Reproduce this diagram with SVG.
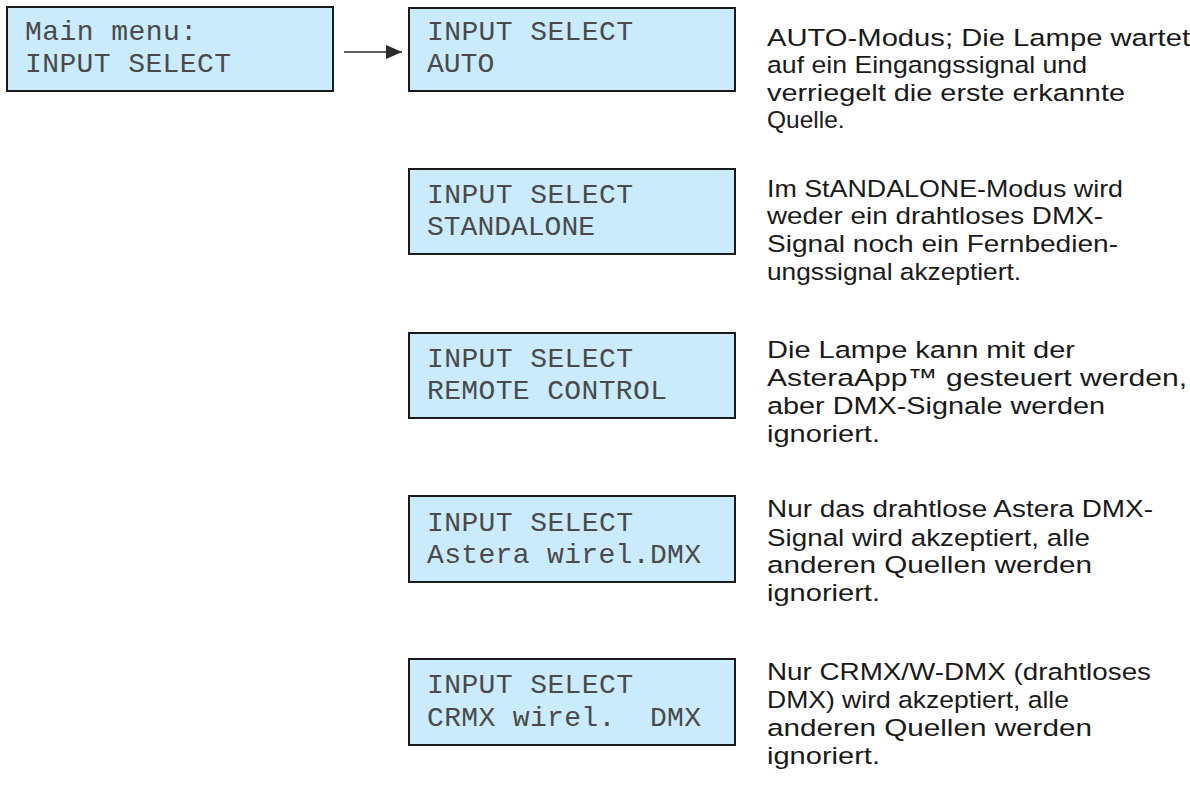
<svg xmlns="http://www.w3.org/2000/svg" width="1190" height="792" viewBox="0 0 1190 792">
<style>
.lcd{fill:#c9ebfb;stroke:#1a1a1a;stroke-width:2}
.lt{font-family:"Liberation Mono","DejaVu Sans Mono",monospace;font-size:28px;fill:#4a4a4a}
.d{font-family:"Liberation Sans",Arial,sans-serif;font-size:24.5px;fill:#1a1a1a}
.con{stroke:#2a2a2a;stroke-width:1.6;fill:none}
</style>
<defs>
<marker id="ah" markerWidth="16" markerHeight="14" refX="16" refY="7" orient="auto" markerUnits="userSpaceOnUse" viewBox="0 0 16 14">
<path d="M0,0 L16,7 L0,14 Z" fill="#2a2a2a"/>
</marker>
</defs>
<rect width="1190" height="792" fill="#fff"/>
<g id="connectors">
<line class="con" x1="344" y1="52" x2="402" y2="52" marker-end="url(#ah)" />
</g>
<g id="main-menu">
<rect class="lcd" x="7" y="7" width="326" height="84"/>
<text class="lt" x="25" y="40" textLength="172" xml:space="preserve">Main menu:</text>
<text class="lt" x="25" y="72" textLength="206" xml:space="preserve">INPUT SELECT</text>
</g>
<g id="auto">
<rect class="lcd" x="409" y="8" width="326" height="83"/>
<text class="lt" x="427" y="40" textLength="206" xml:space="preserve">INPUT SELECT</text>
<text class="lt" x="427" y="72" xml:space="preserve">AUTO</text>
</g>
<g id="auto-desc">
<text class="d" x="767" y="46" textLength="423" lengthAdjust="spacingAndGlyphs">AUTO-Modus; Die Lampe wartet</text>
<text class="d" x="767" y="73" textLength="320" lengthAdjust="spacingAndGlyphs">auf ein Eingangssignal und</text>
<text class="d" x="767" y="101" textLength="358" lengthAdjust="spacingAndGlyphs">verriegelt die erste erkannte</text>
<text class="d" x="767" y="128">Quelle.</text>
</g>
<g id="standalone">
<rect class="lcd" x="409" y="169" width="326" height="85"/>
<text class="lt" x="427" y="203" textLength="206" xml:space="preserve">INPUT SELECT</text>
<text class="lt" x="427" y="235" xml:space="preserve">STANDALONE</text>
</g>
<g id="standalone-desc">
<text class="d" x="767" y="197" textLength="356" lengthAdjust="spacingAndGlyphs">Im StANDALONE-Modus wird</text>
<text class="d" x="767" y="224" textLength="336" lengthAdjust="spacingAndGlyphs">weder ein drahtloses DMX-</text>
<text class="d" x="767" y="252" textLength="351" lengthAdjust="spacingAndGlyphs">Signal noch ein Fernbedien-</text>
<text class="d" x="767" y="280" textLength="254" lengthAdjust="spacingAndGlyphs">ungssignal akzeptiert.</text>
</g>
<g id="remote">
<rect class="lcd" x="409" y="333" width="326" height="85"/>
<text class="lt" x="427" y="367" textLength="206" xml:space="preserve">INPUT SELECT</text>
<text class="lt" x="427" y="399" textLength="240" xml:space="preserve">REMOTE CONTROL</text>
</g>
<g id="remote-desc">
<text class="d" x="767" y="358" textLength="308" lengthAdjust="spacingAndGlyphs">Die Lampe kann mit der</text>
<text class="d" x="767" y="386" textLength="420" lengthAdjust="spacingAndGlyphs">AsteraApp™ gesteuert werden,</text>
<text class="d" x="767" y="414" textLength="338" lengthAdjust="spacingAndGlyphs">aber DMX-Signale werden</text>
<text class="d" x="767" y="442" textLength="113" lengthAdjust="spacingAndGlyphs">ignoriert.</text>
</g>
<g id="astera">
<rect class="lcd" x="409" y="496" width="326" height="86"/>
<text class="lt" x="427" y="531" textLength="206" xml:space="preserve">INPUT SELECT</text>
<text class="lt" x="427" y="563" textLength="274" xml:space="preserve">Astera wirel.DMX</text>
</g>
<g id="astera-desc">
<text class="d" x="767" y="517" textLength="386" lengthAdjust="spacingAndGlyphs">Nur das drahtlose Astera DMX-</text>
<text class="d" x="767" y="546" textLength="323" lengthAdjust="spacingAndGlyphs">Signal wird akzeptiert, alle</text>
<text class="d" x="767" y="573" textLength="325" lengthAdjust="spacingAndGlyphs">anderen Quellen werden</text>
<text class="d" x="767" y="601" textLength="113" lengthAdjust="spacingAndGlyphs">ignoriert.</text>
</g>
<g id="crmx">
<rect class="lcd" x="409" y="659" width="326" height="86"/>
<text class="lt" x="427" y="693" textLength="206" xml:space="preserve">INPUT SELECT</text>
<text class="lt" x="427" y="726" textLength="274" xml:space="preserve">CRMX wirel.  DMX</text>
</g>
<g id="crmx-desc">
<text class="d" x="767" y="680" textLength="384" lengthAdjust="spacingAndGlyphs">Nur CRMX/W-DMX (drahtloses</text>
<text class="d" x="767" y="708" textLength="302" lengthAdjust="spacingAndGlyphs">DMX) wird akzeptiert, alle</text>
<text class="d" x="767" y="736" textLength="325" lengthAdjust="spacingAndGlyphs">anderen Quellen werden</text>
<text class="d" x="767" y="764" textLength="113" lengthAdjust="spacingAndGlyphs">ignoriert.</text>
</g>
</svg>
